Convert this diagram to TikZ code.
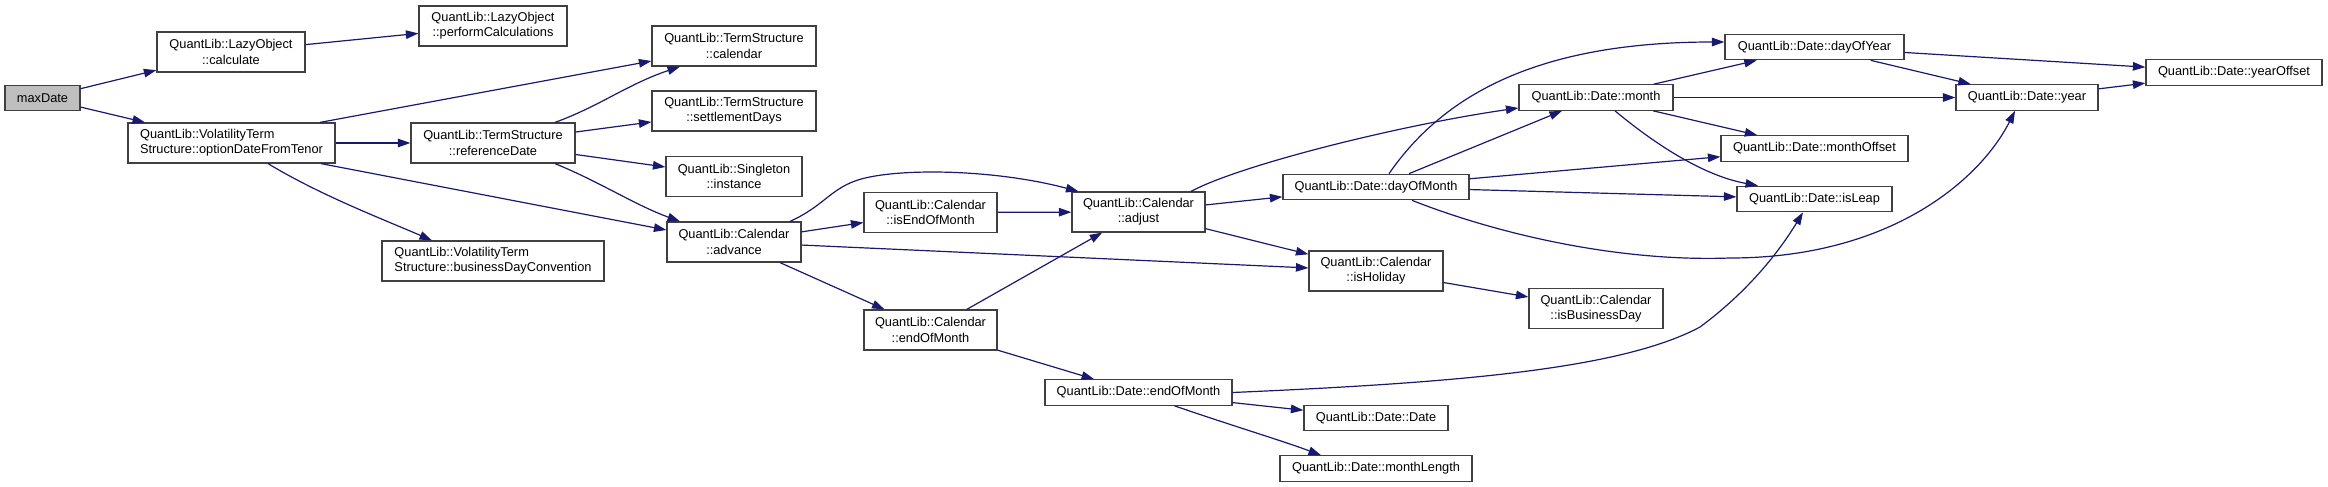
\documentclass[tikz,border=0pt]{standalone}
\usepackage{fontspec}
\setmainfont{Liberation Sans}
\usetikzlibrary{arrows.meta,calc}
\definecolor{edgecol}{HTML}{191970}
\definecolor{boxline}{HTML}{404040}
\definecolor{grayfill}{HTML}{BFBFBF}
\begin{document}
\begin{tikzpicture}[x=1pt,y=-1pt,
  box/.style={draw=boxline, line width=1.2pt, fill=white, inner sep=0pt,
    font=\fontsize{12.8}{15.3}\selectfont, align=center, minimum height=40pt},
  sbox/.style={box, minimum height=25.5pt},
  lbox/.style={box, align=left},
  edge/.style={draw=edgecol, line width=1.2pt, -{Triangle[length=12.5pt,width=8.5pt]}},
]
\useasboundingbox (0,0) rectangle (2328,487);
\fill[white] (0,0) rectangle (2328,487);

% nodes
\node[sbox, fill=grayfill, minimum width=75pt] (maxDate) at (42.5,98) {maxDate};
\node[box, minimum width=148pt] (calc) at (231,52) {QuantLib::LazyObject\\::calculate};
\node[box, minimum width=148pt] (perf) at (493,26) {QuantLib::LazyObject\\::performCalculations};
\node[lbox, minimum width=207pt] (optDate) at (231.5,143) {QuantLib::VolatilityTerm\\Structure::optionDateFromTenor};
\node[box, minimum width=164pt] (refDate) at (493,143) {QuantLib::TermStructure\\::referenceDate};
\node[box, minimum width=164pt] (tsCal) at (734,46) {QuantLib::TermStructure\\::calendar};
\node[box, minimum width=164pt] (settle) at (734,111) {QuantLib::TermStructure\\::settlementDays};
\node[box, minimum width=136pt] (inst) at (734,176.5) {QuantLib::Singleton\\::instance};
\node[box, minimum width=134pt] (advance) at (734,242) {QuantLib::Calendar\\::advance};
\node[lbox, minimum width=222pt] (bdc) at (493,261) {QuantLib::VolatilityTerm\\Structure::businessDayConvention};
\node[box, minimum width=133pt] (isEOM) at (930.5,212.5) {QuantLib::Calendar\\::isEndOfMonth};
\node[box, minimum width=133pt] (calEOM) at (930.5,330) {QuantLib::Calendar\\::endOfMonth};
\node[box, minimum width=133pt] (adjust) at (1138.5,212) {QuantLib::Calendar\\::adjust};
\node[sbox, minimum width=186pt] (dom) at (1376,187) {QuantLib::Date::dayOfMonth};
\node[box, minimum width=134pt] (isHol) at (1376,271) {QuantLib::Calendar\\::isHoliday};
\node[box, minimum width=134pt] (isBD) at (1596,308.5) {QuantLib::Calendar\\::isBusinessDay};
\node[sbox, minimum width=187pt] (dEOM) at (1138.5,392.5) {QuantLib::Date::endOfMonth};
\node[sbox, minimum width=144pt] (dDate) at (1376,418) {QuantLib::Date::Date};
\node[sbox, minimum width=192pt] (mLen) at (1376,468.5) {QuantLib::Date::monthLength};
\node[sbox, minimum width=179pt] (dOY) at (1814.5,47) {QuantLib::Date::dayOfYear};
\node[sbox, minimum width=154pt] (month) at (1596,97.5) {QuantLib::Date::month};
\node[sbox, minimum width=142pt] (year) at (2027,97.5) {QuantLib::Date::year};
\node[sbox, minimum width=176pt] (yOff) at (2234,72.5) {QuantLib::Date::yearOffset};
\node[sbox, minimum width=187pt] (mOff) at (1814.5,148.5) {QuantLib::Date::monthOffset};
\node[sbox, minimum width=155pt] (isLeap) at (1814.5,199) {QuantLib::Date::isLeap};

% edges
\draw[edge] (maxDate) -- (calc);
\draw[edge] (maxDate) -- (optDate);
\draw[edge] (calc) -- (perf);
\draw[edge] ($(optDate.north)+(88.5,0)$) -- ($(tsCal.west)+(0,15)$);
\draw[edge] (optDate) -- (refDate);
\draw[edge] ($(optDate.south)+(89.5,0)$) -- ($(advance.west)+(0,-12)$);
\draw[edge] ($(optDate.south)+(36.5,0)$) .. controls (320,195) and (380,218) .. ($(bdc.north)+(-61,0)$);
\draw[edge] ($(refDate.north)+(62,0)$) .. controls (600,106) and (628,84) .. ($(tsCal.south)+(-54,0)$);
\draw[edge] (refDate) -- (settle);
\draw[edge] (refDate) -- (inst);
\draw[edge] ($(refDate.south)+(62,0)$) .. controls (600,182) and (635,205) .. ($(advance.north)+(-54,0)$);
\draw[edge] (advance) -- (isEOM);
\draw[edge] ($(advance.north)+(56,0)$) .. controls (822,207) and (830,190) .. (855,181)
   .. controls (890,168) and (990,168) .. ($(adjust.north)+(-60,0)$);
\draw[edge] (advance) -- (isHol);
\draw[edge] (advance) -- (calEOM);
\draw[edge] (isEOM) -- (adjust);
\draw[edge] (calEOM) -- (adjust);
\draw[edge] (calEOM) -- (dEOM);
\draw[edge] (adjust) -- (dom);
\draw[edge] (adjust) -- (isHol);
\draw[edge] ($(adjust.north)+(52.5,0)$) .. controls (1240,165) and (1400,125) .. ($(month.west)+(0,10.5)$);
\draw[edge] ($(dom.north)+(13,0)$) .. controls (1440,100) and (1530,42) .. ($(dOY.west)+(0,-5)$);
\draw[edge] ($(dom.north)+(33,0)$) -- ($(month.south)+(-34,0)$);
\draw[edge] (dom) -- (mOff);
\draw[edge] (dom) -- (isLeap);
\draw[edge] ($(dom.south)+(36,0)$) .. controls (1500,235) and (1620,262) .. (1730,258)
   .. controls (1890,258) and (1980,180) .. ($(year.south)+(-12,0)$);
\draw[edge] (month) -- (dOY);
\draw[edge] (month) -- (year);
\draw[edge] (month) -- (mOff);
\draw[edge] ($(month.south)+(19,0)$) .. controls (1650,140) and (1700,175) .. ($(isLeap.north)+(-56.5,0)$);
\draw[edge] (dOY) -- (yOff);
\draw[edge] (dOY) -- (year);
\draw[edge] (year) -- (yOff);
\draw[edge] (isHol) -- (isBD);
\draw[edge] (dEOM.east) .. controls (1450,383) and (1620,370) .. (1700,327)
   .. controls (1750,290) and (1780,250) .. ($(isLeap.south)+(-11.5,0)$);
\draw[edge] (dEOM) -- (dDate);
\draw[edge] ($(dEOM.south)+(36,0)$) .. controls (1230,425) and (1280,440) .. ($(mLen.north)+(-55,0)$);
\end{tikzpicture}
\end{document}
